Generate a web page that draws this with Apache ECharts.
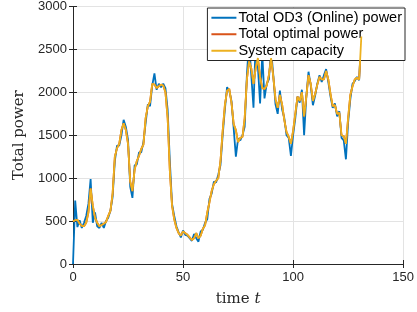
<!DOCTYPE html>
<html>
<head>
<meta charset="UTF-8">
<title>Total power</title>
<script src="https://cdn.jsdelivr.net/npm/echarts@6/dist/echarts.min.js"></script>
<style>
  html, body { margin: 0; padding: 0; background: #fff; }
  #chart { width: 417px; height: 312px; }
</style>
</head>
<body>
<div id="chart"></div>
<script>
// values, t = 0, 1, 2, ...
var capacity = [
  500, 510, 515, 470, 445, 440, 480, 600, 880, 680,
  540, 480, 440, 455, 470, 490, 560, 620, 820, 1250,
  1350, 1400, 1560, 1640, 1560, 1400, 960, 850, 1100, 1200,
  1260, 1340, 1390, 1700, 1840, 1890, 2100, 2090, 2050, 2070,
  2090, 2080, 2000, 1700, 1080, 680, 520, 420, 360, 330,
  380, 360, 340, 310, 280, 300, 360, 300, 330, 410,
  450, 600, 720, 850, 930, 970, 1000, 1200, 1550, 1850,
  2020, 2040, 1880, 1630, 1560, 1420, 1470, 1480, 1700, 2150,
  2360, 2280, 2100, 2280, 2400, 2180, 2050, 2040, 2080, 2200,
  2400, 2180, 1920, 1820, 1970, 1860, 1680, 1540, 1480, 1400,
  1550, 1750, 1950, 1900, 2000, 1720, 1950, 2200, 2100, 1900,
  1980, 2090, 2180, 2150, 2150, 2250, 2150, 1980, 1840, 1850,
  1750, 1760, 1500, 1490, 1400, 1700, 1970, 2070, 2150, 2170,
  2150, 2650
];
var optimal = [
  500, 510, 515, 470, 445, 440, 480, 600, 880, 680,
  540, 480, 440, 455, 470, 490, 560, 620, 820, 1250,
  1350, 1400, 1560, 1640, 1560, 1400, 960, 850, 1100, 1200,
  1260, 1340, 1390, 1700, 1840, 1890, 2100, 2090, 2050, 2070,
  2090, 2080, 2000, 1700, 1080, 680, 520, 420, 360, 330,
  380, 360, 340, 310, 280, 300, 360, 300, 330, 410,
  450, 600, 720, 850, 930, 970, 1000, 1200, 1550, 1850,
  2020, 2040, 1880, 1630, 1560, 1420, 1470, 1480, 1700, 2150,
  2360, 2280, 2100, 2280, 2400, 2180, 2050, 2040, 2080, 2200,
  2400, 2180, 1920, 1820, 1970, 1860, 1680, 1540, 1480, 1400,
  1550, 1750, 1950, 1900, 2000, 1720, 1950, 2200, 2100, 1900,
  1980, 2090, 2180, 2150, 2150, 2250, 2150, 1980, 1840, 1850,
  1750, 1760, 1500, 1490, 1400, 1700, 1970, 2070, 2150, 2170,
  2150, 2650
];
var online = [
  0, 740, 430, 510, 420, 480, 560, 700, 990, 480,
  600, 440, 420, 480, 420, 500, 540, 620, 780, 1200,
  1380, 1380, 1500, 1680, 1600, 1450, 900, 770, 1150, 1160,
  1300, 1300, 1420, 1640, 1860, 1840, 2080, 2220, 2030, 2100,
  2060, 2100, 2050, 1800, 1200, 700, 560, 440, 370, 310,
  390, 340, 330, 300, 270, 350, 300, 260, 380, 400,
  480, 520, 760, 820, 960, 950, 1040, 1150, 1500, 1800,
  2060, 2020, 1900, 1580, 1250, 1460, 1440, 1500, 1600, 2200,
  2600, 2200, 1820, 2600, 2300, 1870, 2450, 1930, 2100, 2150,
  2500, 2200, 1860, 1750, 2020, 1800, 1700, 1500, 1470, 1260,
  1500, 1700, 1950, 1880, 2030, 1500, 1950, 2240, 2080, 1850,
  1960, 2100, 2200, 2120, 2200, 2270, 2120, 1950, 1820, 1870,
  1720, 1780, 1470, 1440, 1220, 1650, 1920, 2100, 2130, 2180,
  2140, 2700
];
var names = ['Total OD3 (Online) power', 'Total optimal power', 'System capacity'];
var colors = ['#0072BD', '#D95319', '#EDB120'];

function pairs(arr) {
  return arr.map(function (v, i) { return [i, v]; });
}

var chart = echarts.init(document.getElementById('chart'));

var axisLine = { show: true, lineStyle: { color: '#262626', width: 1 } };
var tick = { show: true, inside: true, length: 4, lineStyle: { color: '#262626' } };
var gridLine = { show: true, lineStyle: { color: '#e3e3e3', width: 1 } };
var labelFont = { color: '#262626', fontFamily: 'Liberation Sans', fontSize: 13 };
var plain = function (v) { return String(v); };

var option = {
  animation: false,
  color: colors,
  grid: { left: 73, right: 9, top: 4, bottom: 47, containLabel: false },
  legend: {
    orient: 'vertical',
    right: 12,
    top: 8,
    data: names.map(function (n) { return { name: n, icon: 'rect' }; }),
    itemWidth: 25,
    itemHeight: 2,
    itemGap: 1,
    padding: [2, 3, 2, 4],
    backgroundColor: '#fff',
    borderColor: '#262626',
    borderWidth: 1,
    borderRadius: 0,
    textStyle: { fontFamily: 'Liberation Sans', fontSize: 14.5, color: '#000', lineHeight: 15.5, padding: [0, 0, 0, -3] }
  },
  xAxis: [{
    type: 'value', min: 0, max: 150, interval: 50,
    name: '{a|time }{b|t}', nameLocation: 'middle', nameGap: 28,
    nameTextStyle: { rich: {
      a: { fontFamily: 'DejaVu Serif', fontSize: 15, color: '#262626' },
      b: { fontFamily: 'DejaVu Serif', fontStyle: 'italic', fontSize: 15, color: '#262626' }
    } },
    axisLine: axisLine, axisTick: tick, splitLine: gridLine,
    axisLabel: Object.assign({ margin: 7, formatter: plain }, labelFont)
  }, {
    type: 'value', min: 0, max: 150, interval: 50, position: 'top',
    axisLine: axisLine, axisTick: tick, splitLine: { show: false }, axisLabel: { show: false }
  }],
  yAxis: [{
    type: 'value', min: 0, max: 3000, interval: 500,
    name: 'Total power', nameLocation: 'middle', nameGap: 46,
    nameTextStyle: { fontFamily: 'DejaVu Serif', fontSize: 15, color: '#262626' },
    axisLine: axisLine, axisTick: tick, splitLine: gridLine,
    axisLabel: Object.assign({ margin: 6, formatter: plain }, labelFont)
  }, {
    type: 'value', min: 0, max: 3000, interval: 500, position: 'right',
    axisLine: axisLine, axisTick: tick, splitLine: { show: false }, axisLabel: { show: false }
  }],
  series: [
    { name: names[0], type: 'line', data: pairs(online), showSymbol: false, lineStyle: { width: 1.8, color: colors[0] }, z: 2 },
    { name: names[1], type: 'line', data: pairs(optimal), showSymbol: false, lineStyle: { width: 1.8, color: colors[1] }, z: 3 },
    { name: names[2], type: 'line', data: pairs(capacity), showSymbol: false, lineStyle: { width: 1.8, color: colors[2] }, z: 4 }
  ]
};

chart.setOption(option);
</script>
</body>
</html>
